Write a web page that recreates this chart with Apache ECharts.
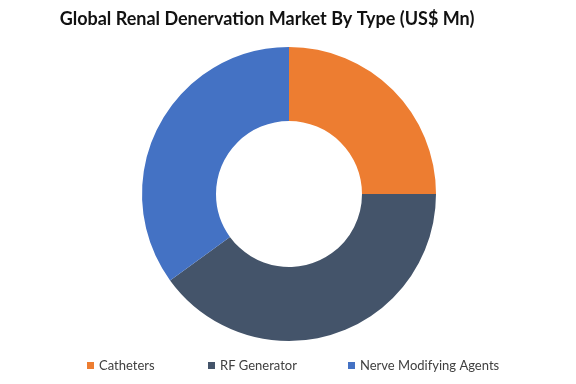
<!DOCTYPE html>
<html><head><meta charset="utf-8">
<script src="https://cdn.jsdelivr.net/npm/echarts@6/dist/echarts.min.js"></script>
<style>html,body{margin:0;padding:0;background:#fff}#c{width:576px;height:384px}</style>
</head><body><div id="c"></div>
<script>
const categories = ['Catheters', 'RF Generator', 'Nerve Modifying Agents'];
const values = [25, 40, 35];
const colors = ['#ED7D31', '#44546A', '#4472C4'];
const titleText = 'Global Renal Denervation Market By Type (US$ Mn)';

const chart = echarts.init(document.getElementById('c'), null, {renderer: 'canvas'});
const legendLefts = [82, 203, 343];
const legendFont = {fontFamily: 'Lato, "Open Sans", sans-serif', fontSize: 13, color: '#404040'};
chart.setOption({
  animation: false,
  color: colors,
  title: {
    text: titleText, left: 262, top: 5, textAlign: 'center',
    textStyle: {fontFamily: 'Lato, "Open Sans", sans-serif', fontWeight: 'bold', fontSize: 18, color: '#111'}
  },
  legend: categories.map((c, i) => ({
    data: [c], left: legendLefts[i], top: 354, itemWidth: 7, itemHeight: 7, itemGap: 4,
    icon: 'rect', textStyle: legendFont, selectedMode: false
  })),
  series: [{
    type: 'pie', radius: [73, 147], center: [289, 194], startAngle: 90, clockwise: true,
    label: {show: false}, labelLine: {show: false}, silent: true,
    data: categories.map((c, i) => ({name: c, value: values[i]}))
  }]
});
</script></body></html>
